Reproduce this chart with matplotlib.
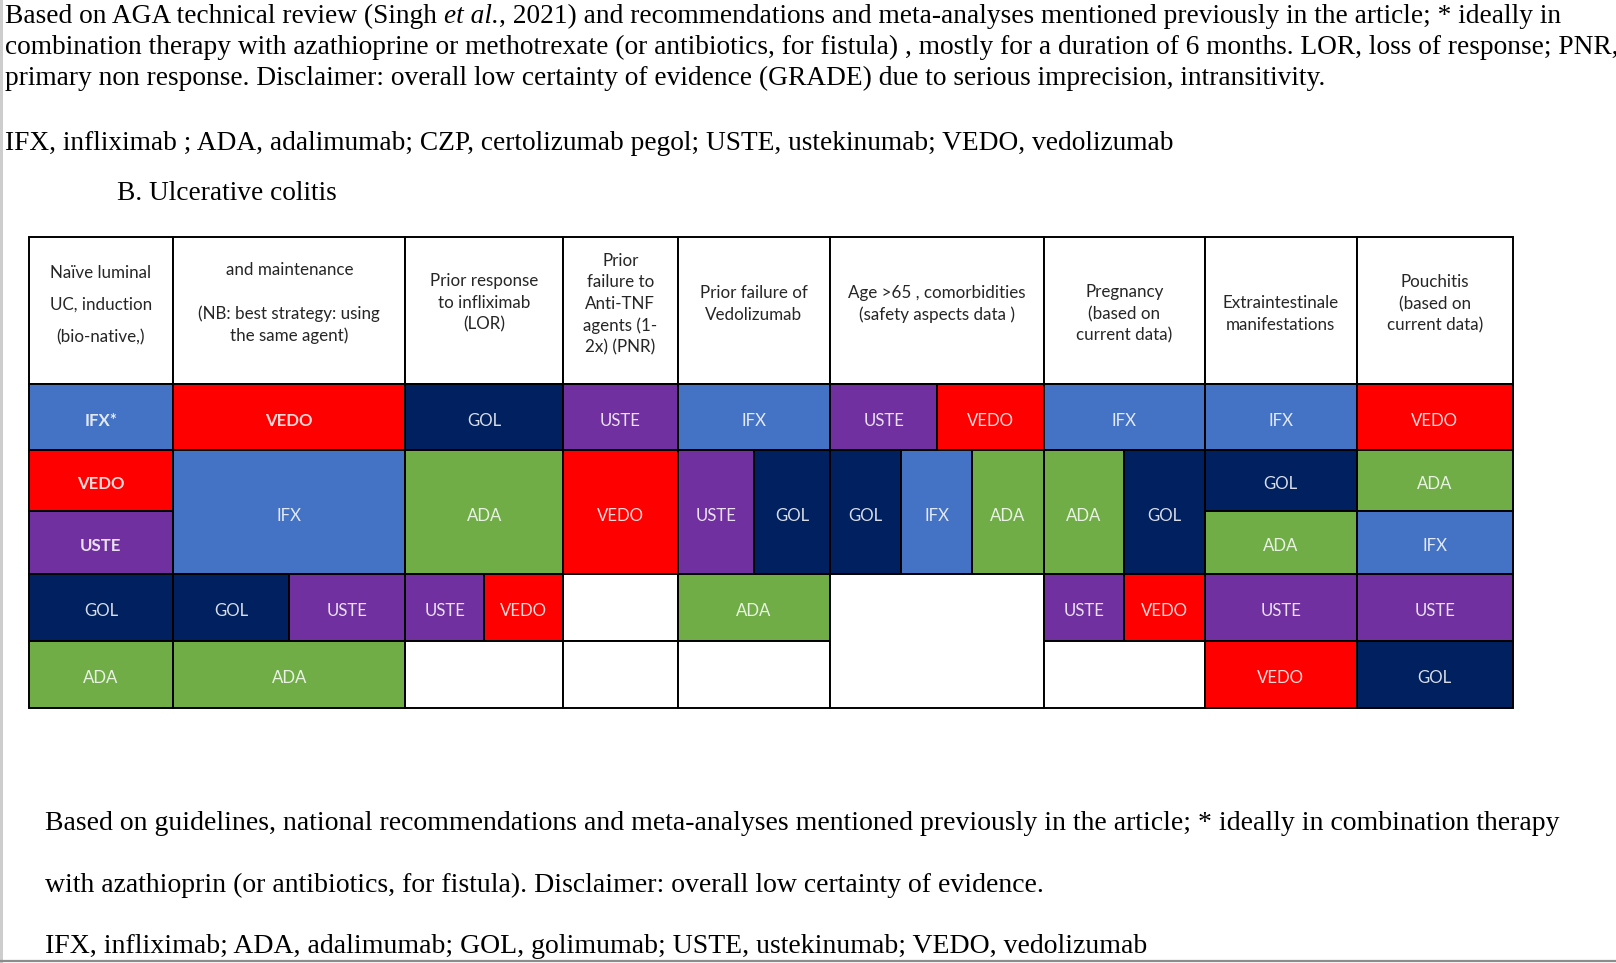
import matplotlib
matplotlib.use("Agg")
import matplotlib.pyplot as plt
from matplotlib.patches import Rectangle

W, H = 1616, 963
SERIF = "Liberation Serif"
SANS = "Lato"

# ---- text around the table ----
top_runs = [("Based on AGA technical review (Singh ", "normal"), ("et al.", "italic"),
            (", 2021) and recommendations and meta-analyses mentioned previously in the article; * ideally in", "normal")]
top_lines = [
    "combination therapy with azathioprine or methotrexate (or antibiotics, for fistula) , mostly for a duration of 6 months. LOR, loss of response; PNR,",
    "primary non response. Disclaimer: overall low certainty of evidence (GRADE) due to serious imprecision, intransitivity.",
]
abbrev_cd = "IFX, infliximab ; ADA, adalimumab; CZP, certolizumab pegol; USTE, ustekinumab; VEDO, vedolizumab"
panel_title = "B. Ulcerative colitis"
bottom_lines = [
    "Based on guidelines, national recommendations and meta-analyses mentioned previously in the article; * ideally in combination therapy",
    "with azathioprin (or antibiotics, for fistula). Disclaimer: overall low certainty of evidence.",
    "IFX, infliximab; ADA, adalimumab; GOL, golimumab; USTE, ustekinumab; VEDO, vedolizumab",
]

# ---- table content ----
headers = [
    ["Naïve luminal", "UC, induction", "(bio-native,)"],
    ["and maintenance", "", "(NB: best strategy: using", "the same agent)"],
    ["Prior response", "to infliximab", "(LOR)"],
    ["Prior", "failure to", "Anti-TNF", "agents (1-", "2x) (PNR)"],
    ["Prior failure of", "Vedolizumab"],
    ["Age >65 , comorbidities", "(safety aspects data )"],
    ["Pregnancy", "(based on", "current data)"],
    ["Extraintestinale", "manifestations"],
    ["Pouchitis", "(based on", "current data)"],
]
# each column: groups of drugs side by side ('' = empty cell), top to bottom
columns = [
    [["IFX*"], ["VEDO"], ["USTE"], ["GOL"], ["ADA"]],
    [["VEDO"], ["IFX"], ["GOL", "USTE"], ["ADA"]],
    [["GOL"], ["ADA"], ["USTE", "VEDO"], [""]],
    [["USTE"], ["VEDO"], [""], [""]],
    [["IFX"], ["USTE", "GOL"], ["ADA"], [""]],
    [["USTE", "VEDO"], ["GOL", "IFX", "ADA"], [""]],
    [["IFX"], ["ADA", "GOL"], ["USTE", "VEDO"], [""]],
    [["IFX"], ["GOL"], ["ADA"], ["USTE"], ["VEDO"]],
    [["VEDO"], ["ADA"], ["IFX"], ["USTE"], ["GOL"]],
]
# how many of the 5 sub-rows each group covers
spans = [
    [1, 1, 1, 1, 1],
    [1, 2, 1, 1],
    [1, 2, 1, 1],
    [1, 2, 1, 1],
    [1, 2, 1, 1],
    [1, 2, 2],
    [1, 2, 1, 1],
    [1, 1, 1, 1, 1],
    [1, 1, 1, 1, 1],
]
bold_cells = {(0, 0), (0, 1), (0, 2), (1, 0)}

drug_colors = {"IFX": "#4472C4", "VEDO": "#FF0000", "USTE": "#7030A0",
               "GOL": "#002060", "ADA": "#70AD47", "": "white"}

# layout (pixels)
col_x = [28.6, 173.2, 405.4, 563.0, 677.7, 830.3, 1043.5, 1205.0, 1356.5, 1513.0]
row_y = [237.3, 384.3, 450.3, 510.7, 574.0, 641.0, 707.7]
head_yc = [305, 303, 303, 304, 304, 304, 314, 314, 304]

fig = plt.figure(figsize=(W / 100, H / 100), dpi=100)
ax = fig.add_axes([0, 0, 1, 1])
ax.set_xlim(0, W)
ax.set_ylim(H, 0)
ax.axis("off")
renderer = fig.canvas.get_renderer()


def text_width(s, **kw):
    t = ax.text(0, 0, s + "|", **kw)
    w1 = t.get_window_extent(renderer).width
    t.set_text("|")
    w2 = t.get_window_extent(renderer).width
    t.remove()
    return w1 - w2


def fit(s, width, **kw):
    return 20 * width / text_width(s, fontsize=20, **kw)


# top paragraph
top_full = "".join(r[0] for r in top_runs)
fs_top = fit(top_full, 1553, family=SERIF)
x = 5
for s, st in top_runs:
    ax.text(x, 23, s, fontsize=fs_top, family=SERIF, style=st, va="baseline")
    x += text_width(s, fontsize=fs_top, family=SERIF, style=st)
for yb, s in zip([54, 85], top_lines):
    ax.text(5, yb, s, fontsize=fs_top, family=SERIF, va="baseline")
ax.text(5, 149.5, abbrev_cd, fontsize=fs_top, family=SERIF, va="baseline")
ax.text(117, 200, panel_title, fontsize=fs_top, family=SERIF, va="baseline")

# bottom paragraph
fs_bot = fit(bottom_lines[0], 1511, family=SERIF)
for yb, s in zip([829.5, 891.5, 953], bottom_lines):
    ax.text(45, yb, s, fontsize=fs_bot, family=SERIF, va="baseline")

# header row
fs_head = fit("Age >65 , comorbidities", 178, family=SANS)
for i, lines in enumerate(headers):
    x0, x1 = col_x[i], col_x[i + 1]
    ax.add_patch(Rectangle((x0, row_y[0]), x1 - x0, row_y[1] - row_y[0],
                           fc="white", ec="black", lw=1.4))
    dy = 32.5 if i == 0 else 21.7
    y0 = head_yc[i] - dy * (len(lines) - 1) / 2
    for k, s in enumerate(lines):
        ax.text((x0 + x1) / 2, y0 + k * dy, s, fontsize=fs_head, family=SANS,
                color="#262626", ha="center", va="center")

# body cells
fs_cell = fit("VEDO", 47, family=SANS)
for i, groups in enumerate(columns):
    r = 0
    for g, (labels, sp) in enumerate(zip(groups, spans[i])):
        ya, yb = row_y[1 + r], row_y[1 + r + sp]
        w = (col_x[i + 1] - col_x[i]) / len(labels)
        for k, lab in enumerate(labels):
            xa = col_x[i] + k * w
            ax.add_patch(Rectangle((xa, ya), w, yb - ya,
                                   fc=drug_colors[lab.rstrip("*")], ec="black", lw=1.4))
            if lab:
                ax.text(xa + w / 2, (ya + yb) / 2 + 3.5, lab, fontsize=fs_cell, family=SANS,
                        color="white", alpha=0.85, ha="center", va="center",
                        fontweight="bold" if (i, g) in bold_cells else "normal")
        r += sp

# page edges
ax.add_patch(Rectangle((0, 0), 3.3, H, fc="#cdcdcd", ec="none"))
ax.plot([0, W], [961.5, 961.5], color="#8c8c8c", lw=1.6)

fig.savefig("out.png", dpi=100)
